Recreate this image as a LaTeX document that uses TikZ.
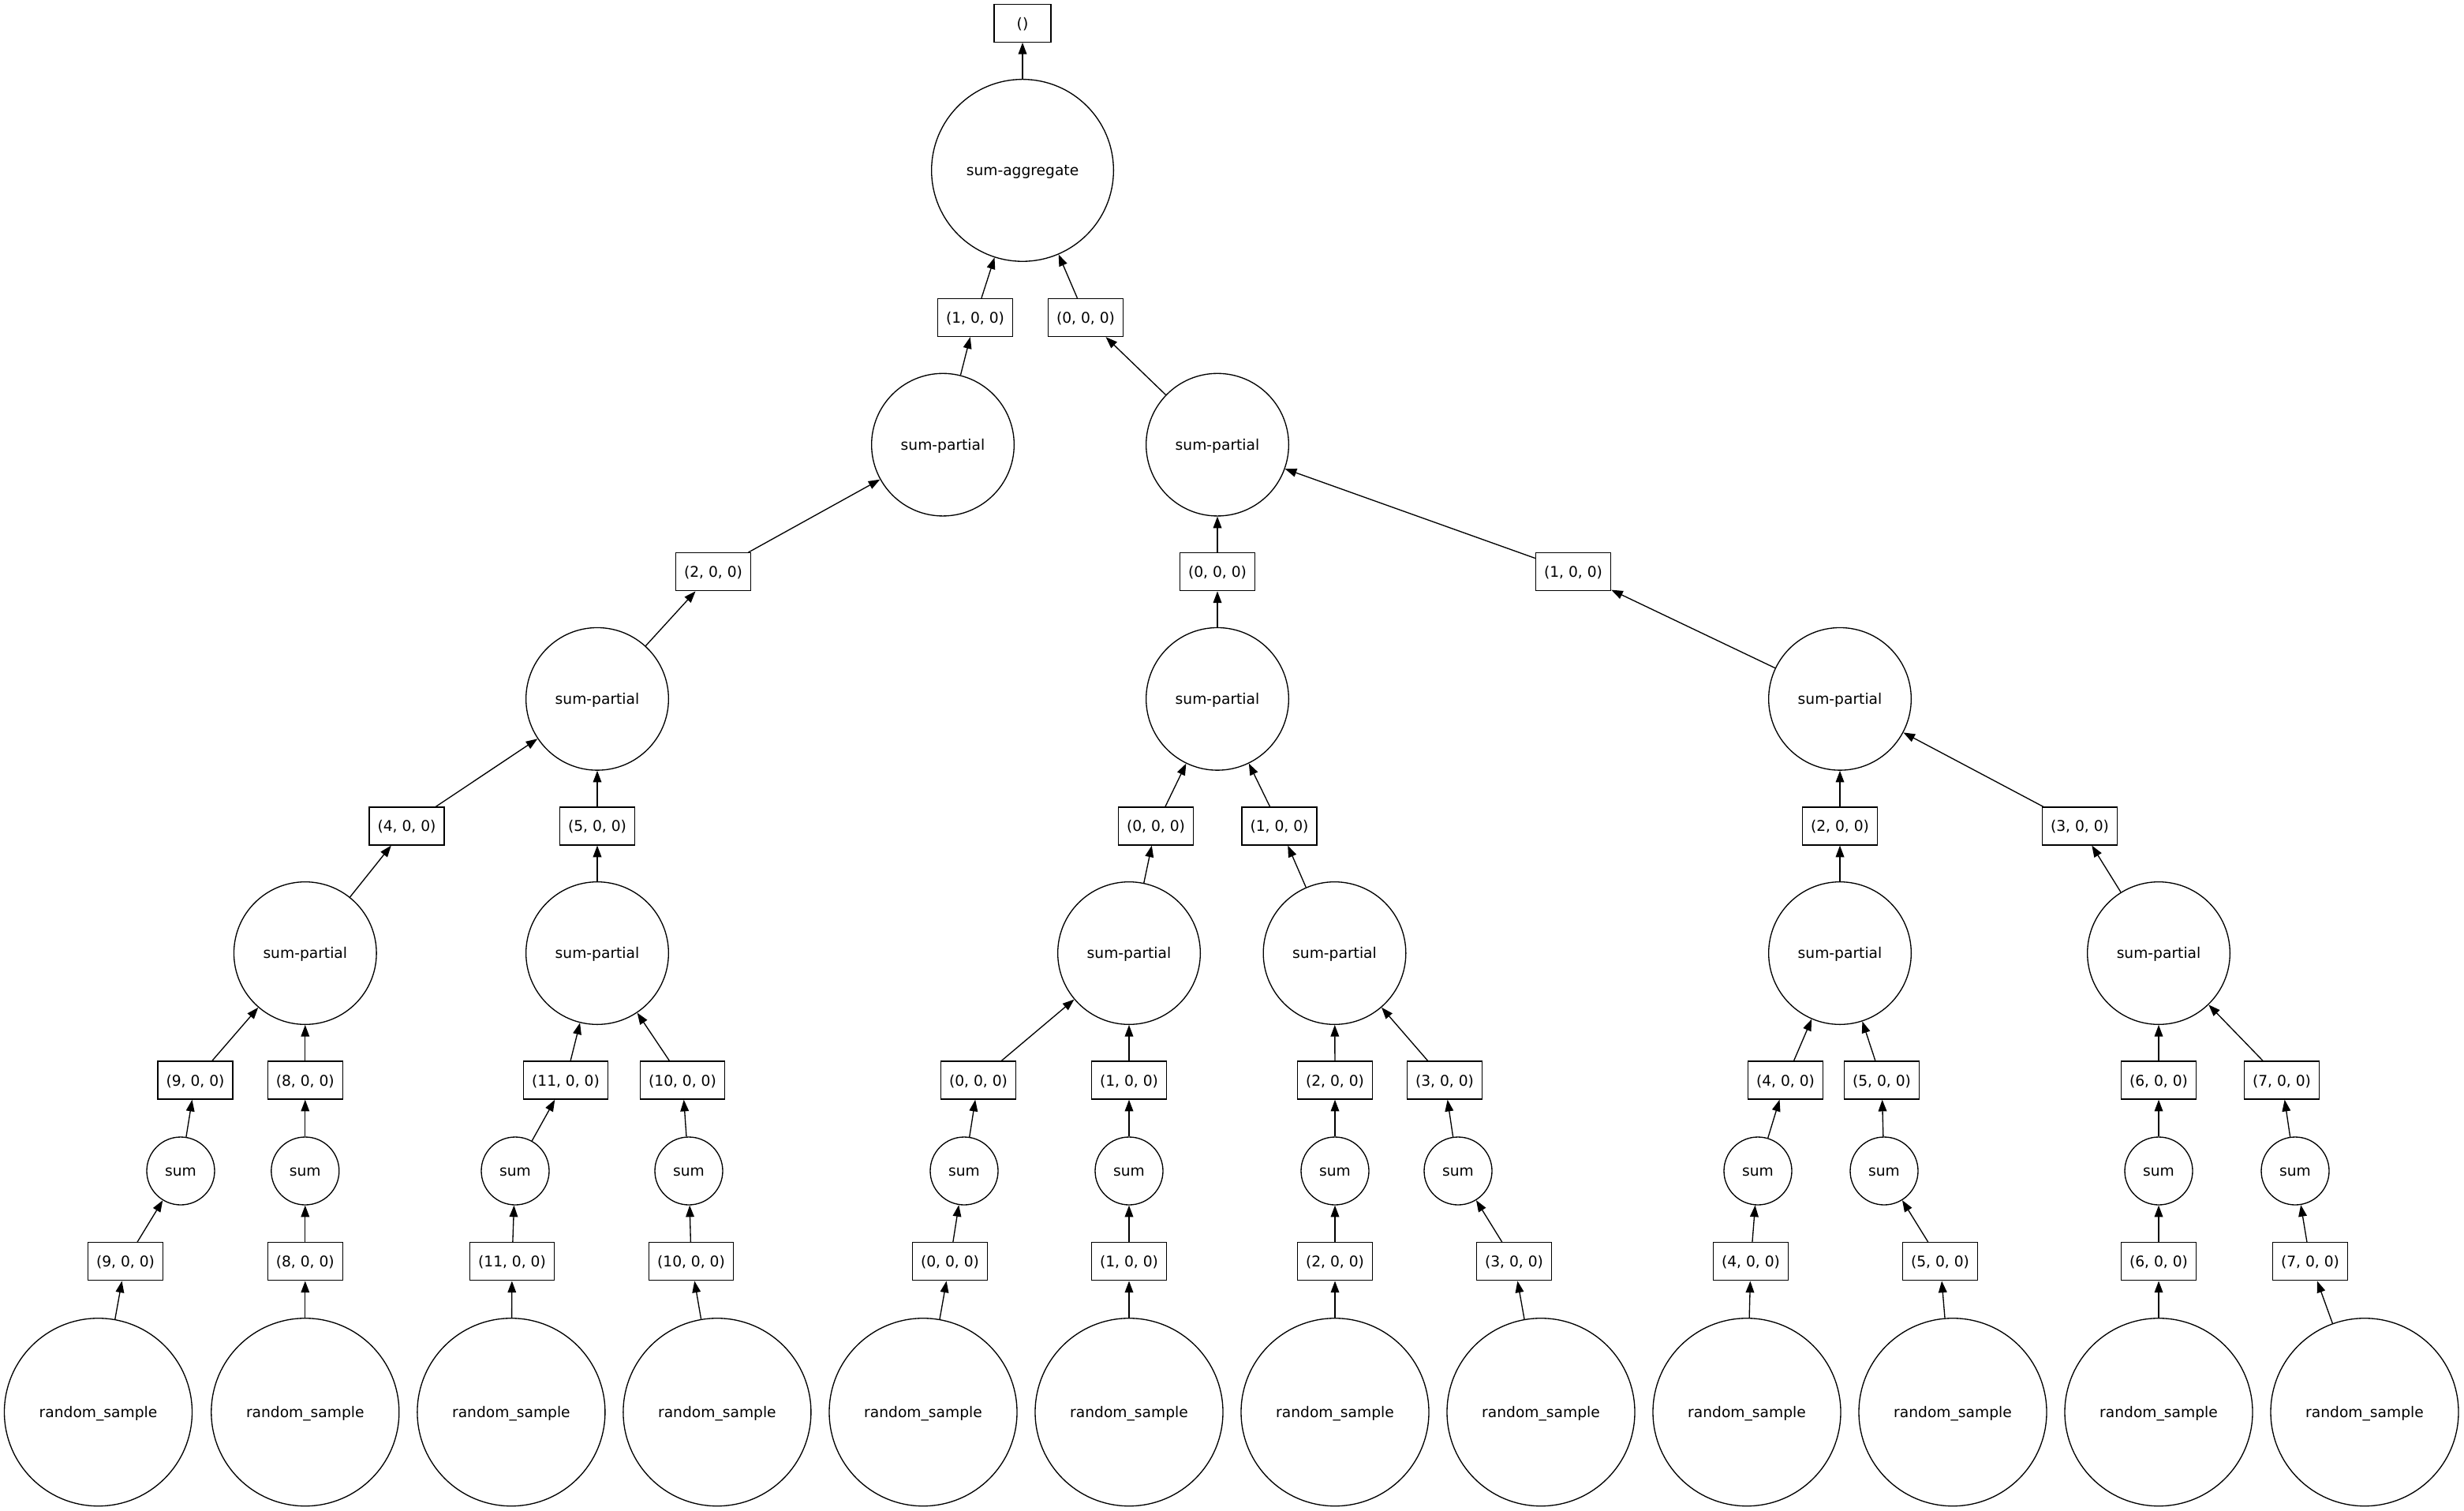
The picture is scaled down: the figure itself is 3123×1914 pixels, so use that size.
\documentclass[tikz,border=0pt]{standalone}
\usepackage{fontspec}
\setmainfont{DejaVu Sans}
\usetikzlibrary{arrows.meta}
\begin{document}
\begin{tikzpicture}[x=0.75pt,y=-0.75pt,
  every node/.style={font=\fontsize{14pt}{17pt}\selectfont, line width=1pt, text height=11pt, text depth=0.6pt},
  keybox/.style={draw, rectangle, minimum width=54pt, minimum height=36pt, inner xsep=7.92pt, inner ysep=2pt},
  fnode/.style={draw, circle, inner sep=0pt},
  rsnode/.style={fnode, minimum size=178.5pt},
  sumnode/.style={fnode, minimum size=64.5pt},
  spnode/.style={fnode, minimum size=135.5pt},
  aggnode/.style={fnode, minimum size=173pt},
  dep/.style={line width=1pt, -{Triangle[length=11pt,width=8pt]}}
]
\useasboundingbox (0,0) rectangle (3123,1914);

% bottom four ranks: random_sample -> key -> sum -> key
\foreach \i/\lab/\xa/\xb/\xc/\xd in {
  0/9/124.5/159/229/247.5,
  1/8/386.8/386.8/386.8/386.8,
  2/11/647.9/649/653/717,
  3/10/908.9/876/873/865,
  4/0/1170/1204/1222/1240,
  5/1/1431/1431/1431/1431,
  6/2/1692/1692/1692/1692,
  7/3/1953/1919/1848/1831,
  8/4/2214/2219/2228/2263,
  9/5/2475/2459/2388/2385,
  10/6/2736/2736/2736/2736,
  11/7/2997/2928/2909/2892} {
  \node[rsnode] (rs\i) at (\xa,1789.7) {random\_sample};
  \node[keybox] (k\i) at (\xb,1598.8) {(\lab, 0, 0)};
  \node[sumnode] (s\i) at (\xc,1484) {sum};
  \node[keybox] (c\i) at (\xd,1369.1) {(\lab, 0, 0)};
  \draw[dep] (rs\i) -- (k\i);
  \draw[dep] (k\i) -- (s\i);
  \draw[dep] (s\i) -- (c\i);
}

% rank 7: sum-partial
\node[spnode] (p0) at (386.8,1208) {sum-partial};
\node[spnode] (p1) at (757,1208) {sum-partial};
\node[spnode] (p2) at (1431,1208) {sum-partial};
\node[spnode] (p3) at (1691.5,1208) {sum-partial};
\node[spnode] (p4) at (2332,1208) {sum-partial};
\node[spnode] (p5) at (2736,1208) {sum-partial};
\draw[dep] (c0) -- (p0); \draw[dep] (c1) -- (p0);
\draw[dep] (c2) -- (p1); \draw[dep] (c3) -- (p1);
\draw[dep] (c4) -- (p2); \draw[dep] (c5) -- (p2);
\draw[dep] (c6) -- (p3); \draw[dep] (c7) -- (p3);
\draw[dep] (c8) -- (p4); \draw[dep] (c9) -- (p4);
\draw[dep] (c10) -- (p5); \draw[dep] (c11) -- (p5);

% rank 6: keys
\node[keybox] (q0) at (515.5,1046.9) {(4, 0, 0)};
\node[keybox] (q1) at (757,1046.9) {(5, 0, 0)};
\node[keybox] (q2) at (1465,1046.9) {(0, 0, 0)};
\node[keybox] (q3) at (1621.5,1046.9) {(1, 0, 0)};
\node[keybox] (q4) at (2332,1046.9) {(2, 0, 0)};
\node[keybox] (q5) at (2636,1046.9) {(3, 0, 0)};
\foreach \j in {0,...,5} { \draw[dep] (p\j) -- (q\j); }

% rank 5: sum-partial
\node[spnode] (u0) at (757,885.8) {sum-partial};
\node[spnode] (u1) at (1543,885.8) {sum-partial};
\node[spnode] (u2) at (2332,885.8) {sum-partial};
\draw[dep] (q0) -- (u0); \draw[dep] (q1) -- (u0);
\draw[dep] (q2) -- (u1); \draw[dep] (q3) -- (u1);
\draw[dep] (q4) -- (u2); \draw[dep] (q5) -- (u2);

% rank 4: keys
\node[keybox] (v0) at (904,724.7) {(2, 0, 0)};
\node[keybox] (v1) at (1543,724.7) {(0, 0, 0)};
\node[keybox] (v2) at (1994,724.7) {(1, 0, 0)};
\draw[dep] (u0) -- (v0);
\draw[dep] (u1) -- (v1);
\draw[dep] (u2) -- (v2);

% rank 3: sum-partial
\node[spnode] (w0) at (1195,563.6) {sum-partial};
\node[spnode] (w1) at (1543,563.6) {sum-partial};
\draw[dep] (v0) -- (w0);
\draw[dep] (v1) -- (w1);
\draw[dep] (v2) -- (w1);

% rank 2: keys
\node[keybox] (z0) at (1236,402.5) {(1, 0, 0)};
\node[keybox] (z1) at (1376,402.5) {(0, 0, 0)};
\draw[dep] (w0) -- (z0);
\draw[dep] (w1) -- (z1);

% rank 1 and 0
\node[aggnode] (agg) at (1296,215.9) {sum-aggregate};
\node[keybox] (top) at (1296,29.3) {()};
\draw[dep] (z0) -- (agg);
\draw[dep] (z1) -- (agg);
\draw[dep] (agg) -- (top);
\end{tikzpicture}
\end{document}
